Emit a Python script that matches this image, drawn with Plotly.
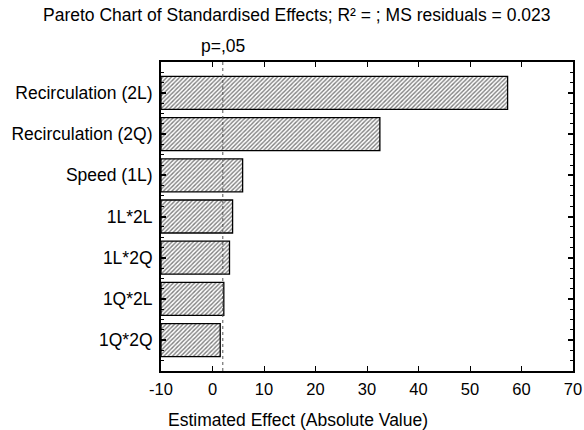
import plotly.graph_objects as go

categories = ["Recirculation (2L)", "Recirculation (2Q)", "Speed (1L)",
              "1L*2L", "1L*2Q", "1Q*2L", "1Q*2Q"]
effects = [57.3, 32.5, 5.85, 3.9, 3.3, 2.2, 1.5]
p_line = 2.0
x_min, x_max = -10, 70
x_ticks = [-10, 0, 10, 20, 30, 40, 50, 60, 70]
x_tick_labels = ["-10", "0", "10", "20", "30", "40", "50", "60", "70"]

FONT = "Liberation Sans, Arial, sans-serif"
W, H = 584, 430
ML, MR, MT, MB = 161, 11, 62, 59
PW, PH = W - ML - MR, H - MT - MB
pos = list(range(len(categories)))

fig = go.Figure()
fig.add_trace(go.Bar(
    y=pos,
    x=[e - x_min for e in effects],
    base=x_min,
    orientation="h",
    width=0.8,
    marker=dict(
        color="white",
        line=dict(color="black", width=1.3),
        pattern=dict(shape="/", fgcolor="black", bgcolor="white", size=3, solidity=0.45),
    ),
    showlegend=False,
    hoverinfo="skip",
))

fig.add_shape(type="line", x0=p_line, x1=p_line, xref="x", y0=0, y1=1, yref="paper",
              line=dict(color="#555", width=1, dash="dot"))

fig.add_annotation(text="p=,05", x=p_line, xref="x", xanchor="center",
                   y=1 + (MT - 46) / PH, yref="paper", yanchor="middle",
                   showarrow=False, font=dict(family=FONT, size=17.5, color="black"))
fig.add_annotation(text="Pareto Chart of Standardised Effects; R² = ; MS residuals = 0.023",
                   x=(296 - ML) / PW, xref="paper", xanchor="center",
                   y=1 + (MT - 15) / PH, yref="paper", yanchor="middle",
                   showarrow=False, font=dict(family=FONT, size=17.5, color="black"))
fig.add_annotation(text="Estimated Effect (Absolute Value)",
                   x=(298 - ML) / PW, xref="paper", xanchor="center",
                   y=-(420 - (H - MB)) / PH, yref="paper", yanchor="middle",
                   showarrow=False, font=dict(family=FONT, size=17.5, color="black"))

fig.update_layout(
    width=W, height=H,
    margin=dict(l=ML, r=MR, t=MT, b=MB),
    plot_bgcolor="white", paper_bgcolor="white",
    font=dict(family=FONT, size=17, color="black"),
)

fig.update_xaxes(
    range=[x_min, x_max], tickvals=x_ticks, ticktext=x_tick_labels,
    showgrid=False, zeroline=False, automargin=False,
    showline=True, linecolor="black", linewidth=2, mirror="ticks",
    ticks="inside", ticklen=5, tickwidth=1, tickcolor="black",
    tickfont=dict(family=FONT, size=16.5),
    ticklabelstandoff=2,
)
fig.update_yaxes(
    range=[len(categories) - 0.25, -0.75],
    tickvals=pos, ticktext=categories,
    showgrid=False, zeroline=False, automargin=False,
    showline=True, linecolor="black", linewidth=2, mirror="ticks",
    ticks="inside", ticklen=5, tickwidth=2, tickcolor="black",
    minor=dict(dtick=0.25, tick0=-0.75, ticks="inside", ticklen=3, tickwidth=1, tickcolor="black"),
    tickfont=dict(family=FONT, size=17.5),
    ticklabelstandoff=3,
)

fig.write_html("out.html",
               config={"displayModeBar": False},
               post_script="document.body.style.margin='0';document.body.style.overflow='hidden';")
